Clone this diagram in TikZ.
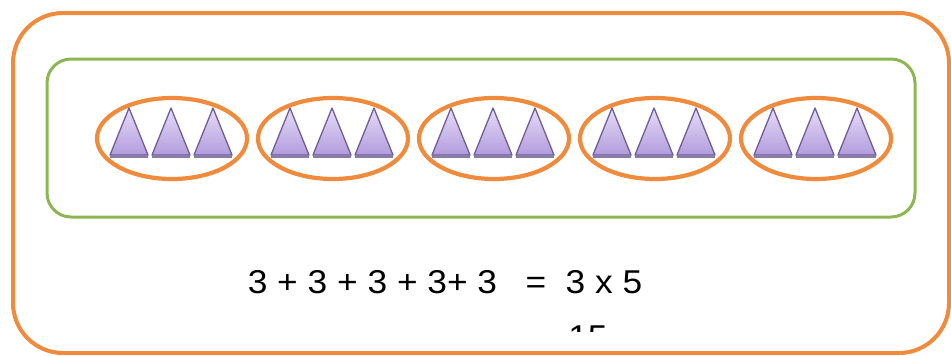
\documentclass[tikz,border=0pt]{standalone}
\usepackage{fontspec}
\setmainfont{Liberation Sans}
\usetikzlibrary{shapes.geometric,calc}
\definecolor{orng}{HTML}{F08A3C}
\definecolor{grn}{HTML}{8DB652}
\definecolor{tri}{HTML}{6E5E98}
\definecolor{tritop}{HTML}{E6DCF7}
\definecolor{tribot}{HTML}{B29CDD}
\definecolor{bar}{HTML}{8A7CA8}
\tikzset{
  outerbox/.style={draw=orng, line width=4pt, rounded corners=50pt, minimum width=936pt, minimum height=340pt, inner sep=0pt},
  innerbox/.style={draw=grn, line width=3pt, rounded corners=24pt, minimum width=868pt, minimum height=158pt, inner sep=0pt},
  grp/.style={draw=orng, line width=4.2pt, ellipse, minimum width=150pt, minimum height=81pt, inner sep=0pt},
  eqtext/.style={font=\fontsize{33}{38}\selectfont, inner sep=0pt, anchor=base},
}
\newcommand{\mytri}[1]{%
  \shade[top color=tritop, bottom color=tribot, draw=tri, line width=1.3pt, line join=round]
    ($(#1)+(-19,17)$) -- ($(#1)+(0,-30)$) -- ($(#1)+(19,17)$) -- cycle;
  \draw[bar, line width=2.6pt] ($(#1)+(-19,18.5)$) -- ($(#1)+(19,18.5)$);
}
\begin{document}
\begin{tikzpicture}[x=1pt,y=-1pt]
\useasboundingbox (0,0) rectangle (951,356);
\node[outerbox] (outer) at (481,183) {};
\node[innerbox] (inner) at (481,138) {};
\foreach \i/\cx in {1/172,2/333,3/494,4/655,5/816}{
  \node[grp] (g\i) at (\cx,138.5) {};
  \foreach \dx in {-42,0,42}{
    \coordinate (t\i) at (\cx+\dx-1,138);
    \mytri{t\i}
  }
}
\node[eqtext] (sum) at (372.5,293.5) {\scalebox{1.07}[1]{3 + 3 + 3 + 3+ 3}};
\node[eqtext] (eq) at (536,293.5) {\scalebox{1.07}[1]{=}};
\node[eqtext] (prod) at (604,293.5) {\scalebox{1.07}[1]{3 x 5}};
\begin{scope}
\clip (0,0) rectangle (951,331);
\node[eqtext] (res) at (588,348) {\scalebox{1.07}[1]{15}};
\end{scope}
\end{tikzpicture}
\end{document}
